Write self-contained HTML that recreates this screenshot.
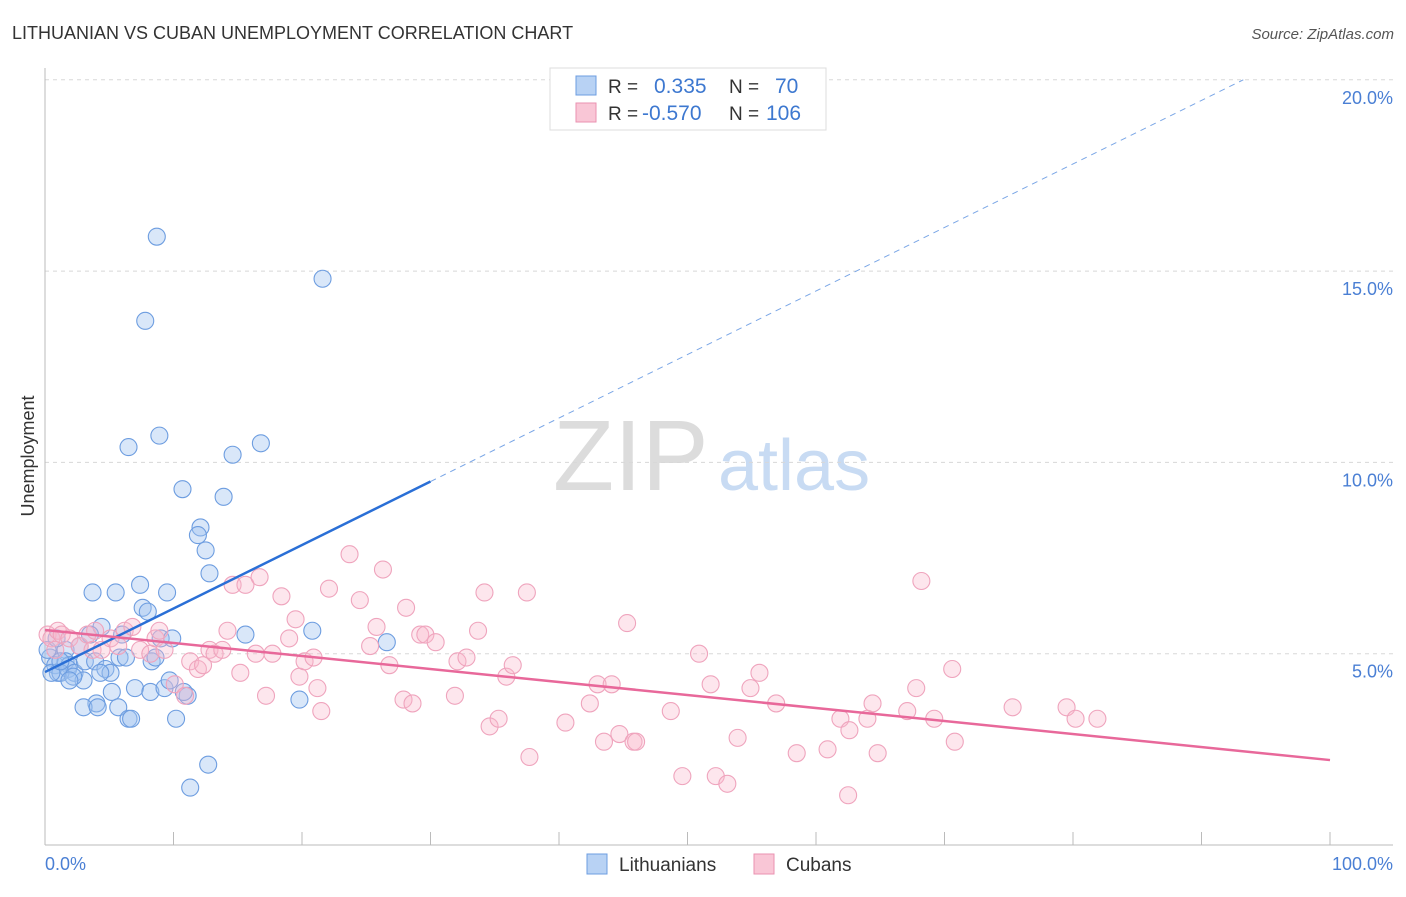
<!DOCTYPE html>
<html><head><meta charset="utf-8"><style>
body{margin:0;background:#fff;font-family:"Liberation Sans",sans-serif;}
svg text{font-family:"Liberation Sans",sans-serif;}
</style></head><body>
<svg id="chart" width="1406" height="892" xmlns="http://www.w3.org/2000/svg">
<text x="12" y="39" font-size="18" fill="#333">LITHUANIAN VS CUBAN UNEMPLOYMENT CORRELATION CHART</text>
<text x="1394" y="39" font-size="15" fill="#555" font-style="italic" text-anchor="end">Source: ZipAtlas.com</text>
<text x="553" y="490" font-size="100" fill="#dcdcdc" font-family="Liberation Serif,serif">ZIP</text>
<text x="718" y="490" font-size="72" fill="#c8dbf3">atlas</text>
<g id="grid"></g>
<g id="axes"></g>
<g id="marks"></g>
<text transform="translate(34,456) rotate(-90)" font-size="18" fill="#333" text-anchor="middle">Unemployment</text>
<text x="45" y="870" font-size="18" fill="#4a7fd4">0.0%</text>
<text x="1393" y="870" font-size="18" fill="#4a7fd4" text-anchor="end">100.0%</text>
<g>
<rect x="550" y="68" width="276" height="62" fill="#fff" stroke="#ddd"/>
<rect x="576" y="76" width="20" height="19" fill="#b8d2f4" stroke="#6d9de0"/>
<rect x="576" y="103" width="20" height="19" fill="#f9c6d6" stroke="#ea92b0"/>
<text x="608" y="93" font-size="19" fill="#333">R =</text>
<text x="654" y="93" font-size="21" fill="#3d78d0">0.335</text>
<text x="729" y="93" font-size="19" fill="#333">N =</text>
<text x="775" y="93" font-size="21" fill="#3d78d0">70</text>
<text x="608" y="120" font-size="19" fill="#333">R =</text>
<text x="642" y="120" font-size="21" fill="#3d78d0">-0.570</text>
<text x="729" y="120" font-size="19" fill="#333">N =</text>
<text x="766" y="120" font-size="21" fill="#3d78d0">106</text>
</g>
<g>
<rect x="587" y="854" width="20" height="20" fill="#b8d2f4" stroke="#6d9de0"/>
<text x="619" y="871" font-size="19" fill="#333">Lithuanians</text>
<rect x="754" y="854" width="20" height="20" fill="#f9c6d6" stroke="#ea92b0"/>
<text x="786" y="871" font-size="19" fill="#333">Cubans</text>
</g>
</svg>
<script>
const yTicks=[5,10,15,20];
const yTickLabels=["5.0%","10.0%","15.0%","20.0%"];
const xTicks=[0,10,20,30,40,50,60,70,80,90,100];
const blueX=[8.7,21.6,7.8,6.5,8.9,14.6,16.8,10.7,13.9,12.1,11.9,12.5,12.8,3.7,5.5,7.4,9.5,7.6,8.0,4.4,6.0,9.0,9.9,15.6,20.8,26.6,1.6,2.7,3.5,0.4,0.8,1.6,1.9,1.0,1.8,2.3,3.1,3.9,4.7,5.1,5.8,6.3,8.3,8.6,4.3,3.0,1.2,0.5,5.2,7.0,8.2,9.3,9.7,11.1,10.8,4.0,3.0,4.1,5.7,6.5,6.7,19.8,10.2,12.7,11.3,0.2,1.2,2.2,0.9,1.9];
const blueY=[15.9,14.8,13.7,10.4,10.7,10.2,10.5,9.3,9.1,8.3,8.1,7.7,7.1,6.6,6.6,6.8,6.6,6.2,6.1,5.7,5.5,5.4,5.4,5.5,5.6,5.3,5.1,5.2,5.5,4.9,4.7,4.8,4.7,4.5,4.6,4.5,4.8,4.8,4.6,4.5,4.9,4.9,4.8,4.9,4.5,4.3,4.5,4.5,4.0,4.1,4.0,4.1,4.3,3.9,4.0,3.7,3.6,3.6,3.6,3.3,3.3,3.8,3.3,2.1,1.5,5.1,4.8,4.4,5.4,4.3];
const pinkX=[0.2,0.5,1.0,0.8,1.3,1.9,2.7,3.3,3.9,3.7,4.4,5.1,5.7,6.2,6.8,7.4,8.2,8.6,8.9,9.3,10.1,10.9,11.3,11.9,12.3,12.8,13.2,13.8,14.2,14.6,15.2,15.6,16.7,16.4,17.2,17.7,18.4,19.0,19.5,19.8,20.2,20.9,21.2,21.5,22.1,23.7,24.5,25.3,25.8,26.3,26.8,28.1,27.9,28.6,29.2,29.6,30.4,31.9,32.1,32.8,33.7,34.2,34.6,35.3,35.9,36.4,37.5,37.7,40.5,42.4,43.0,43.5,44.1,44.7,45.3,45.8,46.0,48.7,49.6,50.9,51.8,52.2,53.1,53.9,54.9,55.6,56.9,58.5,60.9,61.9,62.5,62.6,64.0,64.4,64.8,67.1,67.8,68.2,69.2,70.6,70.8,75.3,79.5,80.2,81.9];
const pinkY=[5.5,5.4,5.6,5.1,5.5,5.4,5.2,5.5,5.6,5.1,5.1,5.4,5.2,5.6,5.7,5.1,5.0,5.4,5.6,5.1,4.2,3.9,4.8,4.6,4.7,5.1,5.0,5.1,5.6,6.8,4.5,6.8,7.0,5.0,3.9,5.0,6.5,5.4,5.9,4.4,4.8,4.9,4.1,3.5,6.7,7.6,6.4,5.2,5.7,7.2,4.7,6.2,3.8,3.7,5.5,5.5,5.3,3.9,4.8,4.9,5.6,6.6,3.1,3.3,4.4,4.7,6.6,2.3,3.2,3.7,4.2,2.7,4.2,2.9,5.8,2.7,2.7,3.5,1.8,5.0,4.2,1.8,1.6,2.8,4.1,4.5,3.7,2.4,2.5,3.3,1.3,3.0,3.3,3.7,2.4,3.5,4.1,6.9,3.3,4.6,2.7,3.6,3.6,3.3,3.3];
const blueTrend=[4.52,0.166];
const pinkTrend=[5.62,-0.034];
const NS="http://www.w3.org/2000/svg";
const X=v=>45+v*12.85;
const Y=v=>845-v*38.26;
function mk(t,a,p){const e=document.createElementNS(NS,t);for(const k in a)e.setAttribute(k,a[k]);p.appendChild(e);return e;}
const grid=document.getElementById('grid'),axes=document.getElementById('axes'),marks=document.getElementById('marks');
yTicks.forEach((v,i)=>{
 const l=mk('line',{x1:45,x2:1393,y1:Y(v),y2:Y(v),stroke:'#d8d8d8','stroke-dasharray':'4,4'},grid);
 
 
 const t=mk('text',{x:1393,y:Y(v)+24,'font-size':18,fill:'#4a7fd4','text-anchor':'end'},grid);
 t.textContent=yTickLabels[i];
 
 
});
const ya=mk('line',{x1:45,x2:45,y1:68,y2:845,stroke:'#bbb'},axes);


const xa=mk('line',{x1:45,x2:1393,y1:845,y2:845,stroke:'#bbb'},axes);


xTicks.forEach(v=>{
 const t=mk('line',{x1:X(v),x2:X(v),y1:832,y2:845,stroke:'#bbb'},axes);
 
 
});
blueX.forEach((x,i)=>{
 const c=mk('circle',{cx:X(x),cy:Y(blueY[i]),r:8.5,fill:'rgba(160,196,240,0.4)',stroke:'#6d9de0','stroke-width':1.1},marks);
 
 
});
pinkX.forEach((x,i)=>{
 const c=mk('circle',{cx:X(x),cy:Y(pinkY[i]),r:8.5,fill:'rgba(248,184,204,0.35)',stroke:'#efa4bd','stroke-width':1.1},marks);
 
 
});
const bEnd=(20-blueTrend[0])/blueTrend[1];
const bl=mk('line',{x1:X(0),y1:Y(blueTrend[0]),x2:X(30),y2:Y(blueTrend[0]+30*blueTrend[1]),stroke:'#2a6fd6','stroke-width':2.5},marks);


const bd=mk('line',{x1:X(30),y1:Y(blueTrend[0]+30*blueTrend[1]),x2:X(bEnd),y2:Y(20),stroke:'#7aa6e6','stroke-width':1,'stroke-dasharray':'6,5'},marks);


const pl=mk('line',{x1:X(0),y1:Y(pinkTrend[0]),x2:X(100),y2:Y(pinkTrend[0]+100*pinkTrend[1]),stroke:'#e8689a','stroke-width':2.5},marks);


</script>
</body></html>
